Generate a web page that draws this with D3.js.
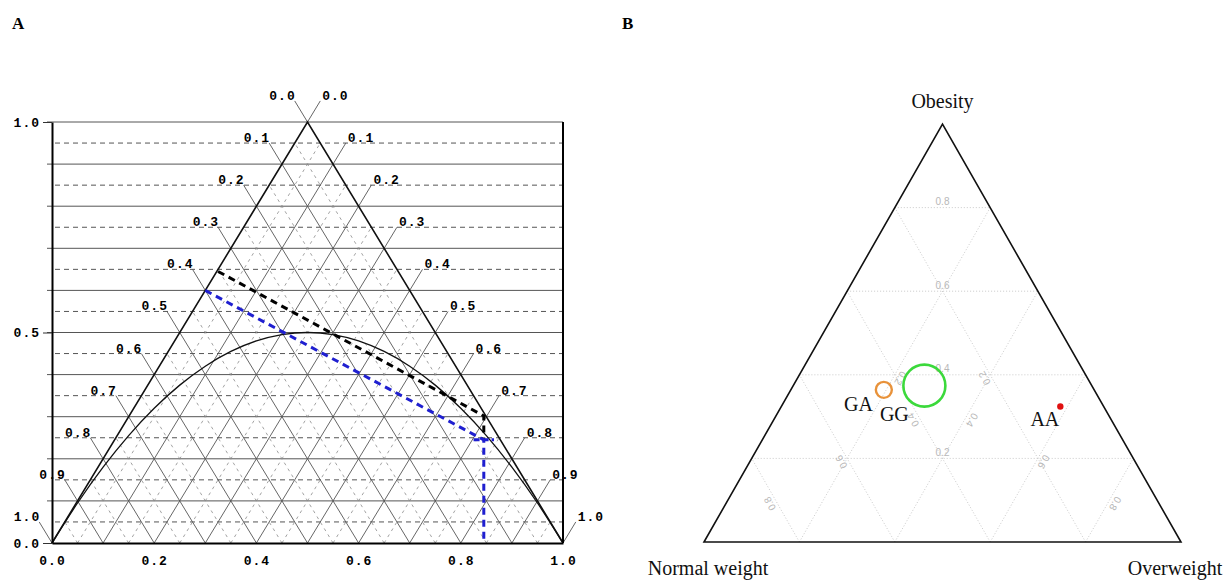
<!DOCTYPE html>
<html>
<head>
<meta charset="utf-8">
<script src="https://cdn.jsdelivr.net/npm/d3@7"></script>
<style>
  body { margin: 0; background: #fff; }
  svg { display: block; }
</style>
</head>
<body>
<svg width="1228" height="582"></svg>
<script>
// ---- panel A data (De Finetti diagram) ----
const latticeLabels = ['0.0', '0.1', '0.2', '0.3', '0.4', '0.5', '0.6', '0.7', '0.8', '0.9', '1.0'];
const bottomTicks = [0, 0.2, 0.4, 0.6, 0.8, 1.0];
const leftTicks = [0, 0.5, 1.0];
// Hardy-Weinberg parabola
const hweP = [0, 0.05, 0.1, 0.15, 0.2, 0.25, 0.3, 0.35, 0.4, 0.45, 0.5, 0.55, 0.6, 0.65, 0.7, 0.75, 0.8, 0.85, 0.9, 0.95, 1];
const hweH = [0, 0.095, 0.18, 0.255, 0.32, 0.375, 0.42, 0.455, 0.48, 0.495, 0.5, 0.495, 0.48, 0.455, 0.42, 0.375, 0.32, 0.255, 0.18, 0.095, 0];
const blackLine = [[0.325, 0.645], [0.845, 0.302], [0.845, 0.245]];
const blueLine = [[0.30, 0.60], [0.845, 0.245], [0.845, 0]];
const blueBar = [[0.825, 0.245], [0.865, 0.245]];

// ---- panel B data (ternary plot) ----
const genotypes = ['GG', 'GA', 'AA'];
const normalW = [0.351, 0.441, 0.091];
const overW = [0.275, 0.195, 0.585];
const obese = [0.374, 0.364, 0.324];
const gridB = [0.2, 0.4, 0.6, 0.8];

const svg = d3.select('svg');
const monoFont = '"Liberation Mono", "DejaVu Sans Mono", monospace';
const serifFont = '"Liberation Serif", "Times New Roman", serif';

// panel letters
svg.append('text').attr('x', 12).attr('y', 29).text('A')
  .attr('font-family', serifFont).attr('font-weight', 'bold').attr('font-size', 17);
svg.append('text').attr('x', 622).attr('y', 29).text('B')
  .attr('font-family', serifFont).attr('font-weight', 'bold').attr('font-size', 17);

// ================= panel A =================
const xA = d3.scaleLinear().domain([0, 1]).range([52, 563]);
const yA = d3.scaleLinear().domain([0, 1]).range([543, 122]);
const gA = svg.append('g');

// horizontal lines every 0.05
d3.range(1, 21).forEach(i => {
  const v = i / 20;
  const solid = i % 2 === 0;
  gA.append('line')
    .attr('x1', solid ? xA(0) - 5 : xA(0) + 3).attr('x2', xA(1))
    .attr('y1', yA(v)).attr('y2', yA(v))
    .attr('stroke', '#555').attr('stroke-width', 1)
    .attr('stroke-dasharray', solid ? null : '5,4');
});

// lattice lines parallel to both sides
d3.range(0, 21).forEach(i => {
  const c = i / 20;
  const solid = i % 2 === 0;
  const style = sel => sel
    .attr('stroke', solid ? '#555' : '#8a8a8a')
    .attr('stroke-width', solid ? 0.9 : 0.8)
    .attr('stroke-dasharray', solid ? null : '3,4');
  if (c > 0 && c < 1) {
    // parallel to left side
    gA.append('line')
      .attr('x1', xA(c)).attr('y1', yA(0))
      .attr('x2', xA((1 + c) / 2)).attr('y2', yA(1 - c))
      .call(style);
    // parallel to right side
    gA.append('line')
      .attr('x1', xA(c)).attr('y1', yA(0))
      .attr('x2', xA(c / 2)).attr('y2', yA(c))
      .call(style);
  }
});

// lattice labels with leader lines outside the triangle
latticeLabels.forEach(lab => {
  const k = +lab;
  const h = 1 - k;
  // left side
  const lx0 = 0.5 * h, lx1 = 0.5 * h - 0.025;
  gA.append('line')
    .attr('x1', xA(lx0)).attr('y1', yA(h))
    .attr('x2', xA(lx1)).attr('y2', yA(h + 0.05))
    .attr('stroke', '#555').attr('stroke-width', 0.9);
  gA.append('text')
    .attr('x', xA(lx1) + 1).attr('y', yA(h + 0.05) - 1)
    .attr('text-anchor', 'end').text(lab);
  // right side
  const rx0 = (1 + k) / 2, rx1 = (1 + k) / 2 + 0.025;
  gA.append('line')
    .attr('x1', xA(rx0)).attr('y1', yA(h))
    .attr('x2', xA(rx1)).attr('y2', yA(h + 0.05))
    .attr('stroke', '#555').attr('stroke-width', 0.9);
  gA.append('text')
    .attr('x', xA(rx1) + 2).attr('y', yA(h + 0.05) - 1)
    .text(lab);
});
gA.selectAll('text')
  .attr('font-family', monoFont).attr('font-size', 13).attr('font-weight', 'bold')
  .attr('letter-spacing', 1);

// triangle sides
gA.append('path')
  .attr('d', d3.line()([[xA(0), yA(0)], [xA(0.5), yA(1)], [xA(1), yA(0)]]))
  .attr('fill', 'none').attr('stroke', '#111').attr('stroke-width', 1.6);

// Hardy-Weinberg curve
gA.append('path')
  .datum(hweP.map((p, i) => [p, hweH[i]]))
  .attr('d', d3.line().x(d => xA(d[0])).y(d => yA(d[1])).curve(d3.curveMonotoneX))
  .attr('fill', 'none').attr('stroke', '#111').attr('stroke-width', 1.3);

const lineA = d3.line().x(d => xA(d[0])).y(d => yA(d[1]));
gA.append('path').datum(blackLine).attr('d', lineA)
  .attr('fill', 'none').attr('stroke', '#000').attr('stroke-width', 3)
  .attr('stroke-dasharray', '7,5');
gA.append('path').datum(blueLine).attr('d', lineA)
  .attr('fill', 'none').attr('stroke', '#1f1fd0').attr('stroke-width', 3)
  .attr('stroke-dasharray', '7,5');
gA.append('path').datum(blueBar).attr('d', lineA)
  .attr('fill', 'none').attr('stroke', '#1f1fd0').attr('stroke-width', 3)
  .attr('stroke-dasharray', '6,3');

// axes
const axFont = sel => sel.selectAll('text')
  .attr('font-family', monoFont).attr('font-size', 13).attr('font-weight', 'bold')
  .attr('letter-spacing', 1).attr('fill', '#000');
gA.append('g').attr('transform', `translate(0,${yA(0)})`)
  .call(d3.axisBottom(xA).tickValues(bottomTicks).tickFormat(d3.format('.1f'))
    .tickSize(0).tickSizeOuter(0).tickPadding(13))
  .call(axFont)
  .call(g => g.select('.domain').attr('stroke', '#000').attr('stroke-width', 2));
gA.append('g').attr('transform', `translate(${xA(0)},0)`)
  .call(d3.axisLeft(yA).tickValues(leftTicks).tickFormat(d3.format('.1f'))
    .tickSize(9).tickSizeOuter(0).tickPadding(3))
  .call(axFont)
  .call(g => g.select('.domain').attr('stroke', '#000').attr('stroke-width', 2))
  .call(g => g.selectAll('.tick line').attr('stroke', '#333'));
gA.append('line')
  .attr('x1', xA(1)).attr('x2', xA(1)).attr('y1', yA(0)).attr('y2', yA(1))
  .attr('stroke', '#000').attr('stroke-width', 2);

// ================= panel B =================
const xB = d3.scaleLinear().domain([0, 1]).range([704, 1181]);
const yB = d3.scaleLinear().domain([0, 1]).range([542, 124]);
const gB = svg.append('g');
// (normal, over, obese) -> screen
const tern = (n, o, ob) => [xB(o + ob / 2), yB(ob)];

// dotted grid
gridB.forEach(v => {
  [[tern(1 - v, 0, v), tern(0, 1 - v, v)],
   [tern(v, 1 - v, 0), tern(v, 0, 1 - v)],
   [tern(1 - v, v, 0), tern(0, v, 1 - v)]].forEach(seg => {
    gB.append('path').attr('d', d3.line()(seg))
      .attr('fill', 'none').attr('stroke', '#c4c4c4').attr('stroke-width', 0.9)
      .attr('stroke-dasharray', '1,2');
  });
});

// grid labels along medians
const gridLab = (pt, dx, dy, rot, txt) => {
  gB.append('text')
    .attr('transform', `translate(${pt[0] + dx},${pt[1] + dy}) rotate(${rot})`)
    .attr('text-anchor', 'middle').attr('dominant-baseline', 'middle')
    .attr('font-family', '"Liberation Sans", Arial, sans-serif').attr('font-size', 10)
    .attr('fill', '#b8b8b8').text(txt);
};
gridB.forEach(v => {
  const t = d3.format('.1f')(v);
  gridLab(tern((1 - v) / 2, (1 - v) / 2, v), 0, -5, 0, t);
  gridLab(tern(v, (1 - v) / 2, (1 - v) / 2), -5, 3, -120, t);
  gridLab(tern((1 - v) / 2, v, (1 - v) / 2), 5, 3, 120, t);
});

// triangle
gB.append('path')
  .attr('d', d3.line()([tern(1, 0, 0), tern(0, 0, 1), tern(0, 1, 0)]) + 'Z')
  .attr('fill', 'none').attr('stroke', '#111').attr('stroke-width', 1.6);

// vertex names
gB.append('text').attr('x', tern(0, 0, 1)[0]).attr('y', 108).attr('text-anchor', 'middle').text('Obesity');
gB.append('text').attr('x', tern(1, 0, 0)[0] + 4).attr('y', 575).attr('text-anchor', 'middle').text('Normal weight');
gB.append('text').attr('x', tern(0, 1, 0)[0] - 6).attr('y', 575).attr('text-anchor', 'middle').text('Overweight');

// genotype markers
const markStyle = {
  GG: { r: 21, stroke: '#3bd93b', fill: 'none', sw: 2.6, dx: -30, dy: 35, anchor: 'middle' },
  GA: { r: 8, stroke: '#e8923a', fill: 'none', sw: 2.4, dx: -11, dy: 21, anchor: 'end' },
  AA: { r: 3.2, stroke: 'none', fill: '#e01010', sw: 0, dx: -1, dy: 19, anchor: 'end' }
};
genotypes.forEach((g, i) => {
  const p = tern(normalW[i], overW[i], obese[i]);
  const s = markStyle[g];
  gB.append('circle').attr('cx', p[0]).attr('cy', p[1]).attr('r', s.r)
    .attr('fill', s.fill).attr('stroke', s.stroke).attr('stroke-width', s.sw);
  gB.append('text').attr('x', p[0] + s.dx).attr('y', p[1] + s.dy)
    .attr('text-anchor', s.anchor).text(g);
});
gB.selectAll('text:not([fill])')
  .attr('font-family', serifFont).attr('font-size', 20).attr('fill', '#111');
</script>
</body>
</html>
